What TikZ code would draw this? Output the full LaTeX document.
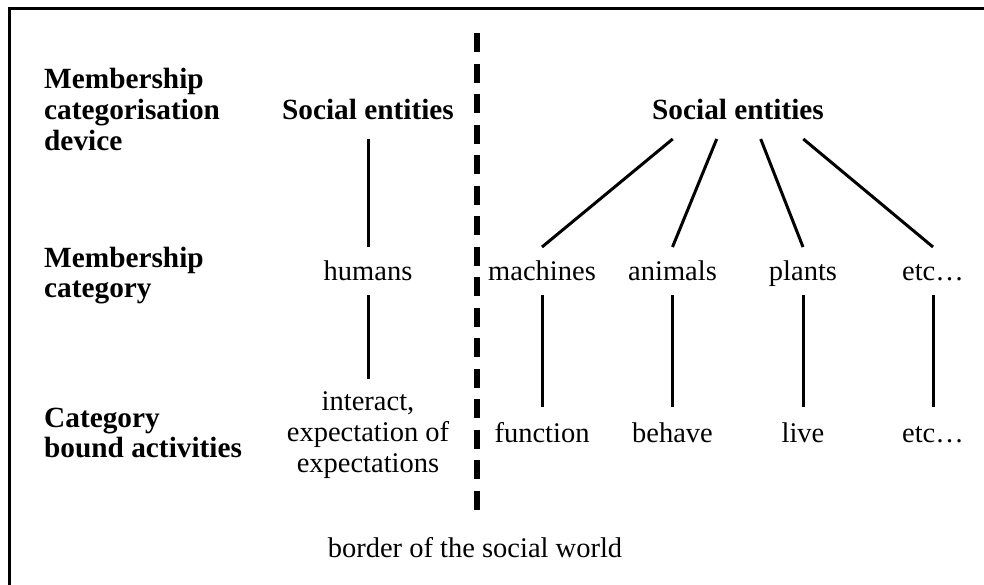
\documentclass[tikz,border=0pt]{standalone}
\usepackage{fontspec}
\setmainfont{Liberation Serif}
\begin{document}
\begin{tikzpicture}[x=1pt,y=-1pt,
  txt/.style={font=\fontsize{28.5}{31}\selectfont, anchor=base, inner sep=0pt, align=center},
  bfnt/.style={font=\fontsize{29.3}{31}\selectfont\bfseries},
  btxt/.style={bfnt, anchor=base west, inner sep=0pt, align=left},
  conn/.style={line width=3pt},
  border/.style={line width=6.5pt, dash pattern=on 19pt off 11.5pt}]
\useasboundingbox (0,0) rectangle (984,584);
\draw[line width=3pt] (9.5,8) rectangle (1010,610);
% row labels
\node[btxt] (l1) at (44,88) {Membership};
\node[btxt] (l1b) at (44,119) {categorisation};
\node[btxt] (l1c) at (44,150) {device};
\node[btxt] (l2) at (44,267) {Membership};
\node[btxt] (l2b) at (44,297) {category};
\node[btxt] (l3) at (44,427) {Category};
\node[btxt] (l3b) at (44,457) {bound activities};
% left tree
\node[txt, bfnt] (se1) at (368,119) {Social entities};
\node[txt] (hum) at (368,280) {humans};
\node[txt] (int) at (368,472) {interact,\\expectation of\\expectations};
\draw[conn] ([yshift=-20pt]se1.base) -- ([yshift=33pt]hum.base);
\draw[conn] ([yshift=-15pt]hum.base) -- ([yshift=93pt]int.base);
% border
\coordinate (bt) at (477,33);
\coordinate (bb) at (477,515);
\draw[border] (bt) -- (bb);
\node[txt] (bw) at (475,557) {border of the social world};
% right tree
\node[txt, bfnt] (se2) at (738,119) {Social entities};
\node[txt] (mac) at (542,280) {machines};
\node[txt] (ani) at (672.5,280) {animals};
\node[txt] (pla) at (803,280) {plants};
\node[txt] (etc1) at (933,280) {etc…};
\node[txt] (fun) at (542,442) {function};
\node[txt] (beh) at (672.5,442) {behave};
\node[txt] (liv) at (803,442) {live};
\node[txt] (etc2) at (933,442) {etc…};
\draw[conn] ([xshift=-65.3pt,yshift=-20pt]se2.base) -- ([yshift=33pt]mac.base);
\draw[conn] ([xshift=-21.3pt,yshift=-20pt]se2.base) -- ([yshift=33pt]ani.base);
\draw[conn] ([xshift=22.7pt,yshift=-20pt]se2.base) -- ([yshift=33pt]pla.base);
\draw[conn] ([xshift=65.3pt,yshift=-20pt]se2.base) -- ([yshift=33pt]etc1.base);
\draw[conn] ([yshift=-15pt]mac.base) -- ([yshift=35pt]fun.base);
\draw[conn] ([yshift=-15pt]ani.base) -- ([yshift=35pt]beh.base);
\draw[conn] ([yshift=-15pt]pla.base) -- ([yshift=35pt]liv.base);
\draw[conn] ([yshift=-15pt]etc1.base) -- ([yshift=35pt]etc2.base);
\end{tikzpicture}
\end{document}
